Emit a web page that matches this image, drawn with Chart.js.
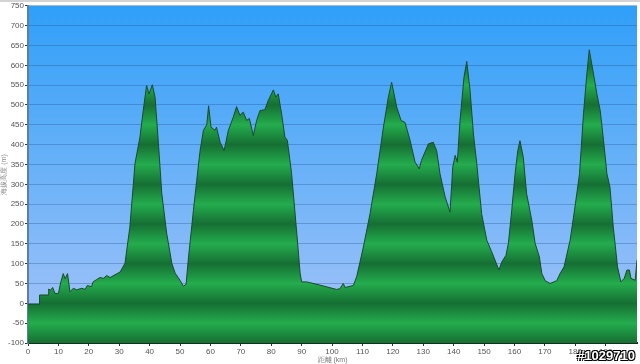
<!DOCTYPE html>
<html>
<head>
<meta charset="utf-8">
<script src="https://cdn.jsdelivr.net/npm/chart.js@4"></script>
<style>
html, body { margin: 0; padding: 0; background: #fff; }
#wrap { position: relative; width: 640px; height: 364px; }
#mark {
    position: absolute; right: 5px; bottom: 1px;
    font: bold 13px "Liberation Sans", Arial, sans-serif; color: #fff;
    text-shadow: -1px -1px 0 #000, 1px -1px 0 #000, -1px 1px 0 #000, 1px 1px 0 #000;
}
</style>
</head>
<body>
<div id="wrap">
    <canvas id="profile" width="640" height="364"></canvas>
    <div id="mark">#1029710</div>
</div>
<script>
// distance (km) along the route
const distanceKm = [
    0, 3.7, 3.8, 6.6, 6.8, 7.4, 8.1, 8.9, 10.0, 10.8,
    11.6, 12.2, 13.0, 13.8, 14.9, 16.0, 17.7, 18.8, 19.5, 20.9,
    21.4, 22.6, 23.7, 24.8, 25.9, 27.0, 28.6, 30.3, 31.9, 33.5,
    35.2, 36.8, 37.9, 39.0, 39.8, 40.9, 41.8, 42.9, 44.0, 45.6,
    47.3, 48.4, 50.0, 51.1, 52.0, 52.7, 54.4, 55.5, 56.6, 57.7,
    58.8, 59.4, 60.2, 61.5, 62.0, 63.2, 64.5, 65.9, 67.5, 68.6,
    69.7, 70.8, 71.9, 72.8, 74.1, 75.2, 76.3, 77.9, 79.0, 80.7,
    81.5, 82.3, 83.4, 84.5, 85.3, 86.7, 88.4, 89.5, 90.0, 91.7,
    96.0, 100.0, 101.5, 102.6, 103.7, 104.3, 107.0, 108.1, 110.3, 112.5,
    114.7, 116.9, 118.5, 119.6, 121.3, 122.7, 124.0, 125.7, 127.3, 128.7,
    129.4, 131.7, 133.3, 134.4, 135.5, 137.2, 138.8, 139.7, 140.5, 141.2,
    142.1, 143.4, 144.3, 145.4, 146.5, 147.6, 149.2, 150.9, 152.5, 153.6,
    154.9, 155.8, 157.2, 158.0, 159.1, 160.2, 161.1, 161.8, 162.9, 164.0,
    165.7, 166.8, 168.2, 169.0, 170.1, 171.7, 173.9, 175.0, 176.3, 178.3,
    179.9, 181.4, 182.7, 183.8, 184.6, 186.0, 187.1, 188.2, 189.3, 190.4,
    191.4, 192.5, 193.9, 195.0, 196.1, 197.0, 197.8, 198.3, 199.7, 200.3
];

// elevation (m)
const elevationM = [
    -2, -2, 21, 21, 36, 33, 40, 25, 25, 54,
    75, 62, 75, 29, 38, 34, 38, 35, 45, 42,
    54, 60, 65, 63, 70, 65, 72, 79, 101, 192,
    353, 418, 486, 549, 528, 551, 519, 403, 277, 177,
    101, 76, 58, 43, 48, 109, 234, 310, 385, 436,
    450, 498, 444, 436, 444, 406, 385, 436, 469, 496,
    474, 482, 461, 466, 423, 461, 486, 488, 511, 538,
    520, 528, 478, 419, 411, 327, 177, 76, 54, 54,
    46, 38, 35, 37, 50, 40, 45, 67, 142, 226,
    327, 444, 519, 557, 494, 461, 456, 410, 356, 339,
    360, 402, 406, 385, 327, 268, 230, 343, 373, 356,
    461, 570, 610, 536, 427, 352, 226, 159, 130, 109,
    84, 104, 121, 151, 234, 327, 385, 410, 368, 276,
    209, 151, 117, 75, 57, 50, 57, 75, 92, 159,
    243, 327, 478, 578, 639, 578, 528, 486, 410, 327,
    293, 192, 92, 54, 63, 84, 84, 63, 58, 109
];

const yTicks = [-100, 750, 50];   // min, max, step
const xTicks = [0, 200.3, 10];

const points = distanceKm.map((d, i) => ({ x: d, y: elevationM[i] }));

// sky gradient behind the plot
const skyPlugin = {
    id: 'sky',
    beforeDraw(chart) {
        const { ctx, chartArea: a } = chart;
        ctx.save();
        ctx.fillStyle = '#d4d4d4';
        ctx.fillRect(0, 0, chart.width, 2);
        const g = ctx.createLinearGradient(0, a.top, 0, a.bottom);
        g.addColorStop(0, '#2f9ff8');
        g.addColorStop(1, '#a8c5f8');
        ctx.fillStyle = g;
        ctx.fillRect(a.left, a.top, a.right - a.left, a.bottom - a.top);
        ctx.restore();
    }
};

// striped green: dark at every 100 m, light in between
const bandFill = (c) => {
    const { ctx, chartArea, scales } = c.chart;
    if (!chartArea) return '#1f9a44';
    const h = chartArea.bottom - chartArea.top;
    const g = ctx.createLinearGradient(0, chartArea.top, 0, chartArea.bottom);
    for (let v = yTicks[0]; v <= yTicks[1]; v += 50) {
        const p = (scales.y.getPixelForValue(v) - chartArea.top) / h;
        g.addColorStop(Math.min(1, Math.max(0, p)), v % 100 === 0 ? '#156f33' : '#24ac4d');
    }
    return g;
};

const tickFont = { family: '"Liberation Sans", Arial, sans-serif', size: 8 };

new Chart(document.getElementById('profile').getContext('2d'), {
    type: 'line',
    data: {
        datasets: [{
            data: points,
            borderColor: '#1c4a2b',
            borderWidth: 1,
            backgroundColor: bandFill,
            fill: 'start',
            pointRadius: 0,
            tension: 0
        }]
    },
    options: {
        responsive: false,
        animation: false,
        events: [],
        layout: { padding: { top: 4, right: 3, left: 0, bottom: 0 } },
        plugins: { legend: { display: false }, tooltip: { enabled: false } },
        scales: {
            x: {
                type: 'linear',
                min: xTicks[0],
                max: xTicks[1],
                ticks: { stepSize: xTicks[2], color: '#555', font: tickFont, padding: 1, maxRotation: 0 },
                afterBuildTicks: (s) => { s.ticks = s.ticks.filter(t => t.value % 10 === 0); },
                afterFit: (s) => { s.height = 21; },
                grid: { drawOnChartArea: false, tickLength: 3, color: '#333' },
                border: { color: '#17301e', width: 2 },
                title: { display: true, text: '距離 (km)', color: '#777', font: { size: 7 }, padding: 0 }
            },
            y: {
                min: yTicks[0],
                max: yTicks[1],
                ticks: { stepSize: yTicks[2], color: '#555', font: tickFont, padding: 1 },
                afterFit: (s) => { s.width = 28; },
                grid: { color: 'rgba(30, 70, 130, 0.3)', tickLength: 3, tickColor: '#333' },
                border: { color: '#5d7ea6', width: 2 },
                title: { display: true, text: '海拔高度 (m)', color: '#888', font: { size: 7 }, padding: 0 }
            }
        }
    },
    plugins: [skyPlugin]
});
</script>
</body>
</html>
